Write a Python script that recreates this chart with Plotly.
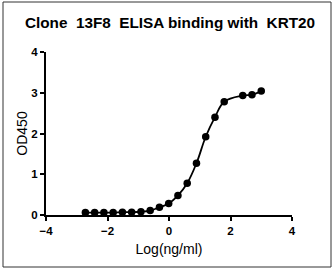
import plotly.graph_objects as go

# Log concentration (log10 ng/ml), 2-fold dilution series
log_conc = [-2.719, -2.418, -2.117, -1.816, -1.515, -1.214, -0.913, -0.612, -0.311, -0.010,
            0.291, 0.592, 0.893, 1.194, 1.495, 1.796, 2.398, 2.699, 3.000]
od450 = [0.06, 0.06, 0.06, 0.06, 0.07, 0.07, 0.08, 0.11, 0.19, 0.28,
         0.48, 0.78, 1.27, 1.92, 2.40, 2.78, 2.93, 2.95, 3.04]

x_ticks = [-4, -2, 0, 2, 4]
y_ticks = [0, 1, 2, 3, 4]

title_text = "Clone\u00a0\u00a013F8\u00a0\u00a0ELISA binding with\u00a0\u00a0KRT20"

W, H = 334, 270
L, R, T, B = 46, 42, 52, 55

fig = go.Figure()
fig.add_trace(go.Scatter(
    x=log_conc, y=od450, mode="lines",
    line=dict(color="black", width=1.8, shape="spline", smoothing=1.1),
    hoverinfo="skip", showlegend=False))
fig.add_trace(go.Scatter(
    x=log_conc, y=od450, mode="markers",
    marker=dict(color="black", size=7.5),
    showlegend=False))

axis_common = dict(
    showgrid=False, zeroline=False, showline=True, linecolor="black", linewidth=2,
    ticks="outside", ticklen=4, tickwidth=1.5, tickcolor="black",
    tickfont=dict(family="Liberation Sans, Arial", size=11.5, color="black", weight="bold"),
)
fig.update_xaxes(range=[-4, 4], tickvals=x_ticks, **axis_common,
                 title=dict(text="Log(ng/ml)", font=dict(family="Liberation Sans, Arial", size=14, color="black"), standoff=8))
fig.update_yaxes(range=[0, 4], tickvals=y_ticks, **axis_common,
                 title=dict(text="OD450", font=dict(family="Liberation Sans, Arial", size=14, color="black"), standoff=0))

pw, ph = W - L - R, H - T - B
fig.add_shape(type="rect", xref="paper", yref="paper",
              x0=(3 - L) / pw, x1=(331 - L) / pw,
              y0=(H - B - 267) / ph, y1=(H - B - 2) / ph,
              line=dict(color="#333333", width=1), layer="below")

fig.update_layout(
    width=W, height=H, margin=dict(l=L, r=R, t=T, b=B),
    paper_bgcolor="white", plot_bgcolor="white",
    title=dict(text=title_text, xref="container", x=170 / W, xanchor="center",
               y=1 - 23 / H, yanchor="middle",
               font=dict(family="Liberation Sans, Arial", size=15.3, color="black", weight="bold")),
)

fig.write_html("out.html")
